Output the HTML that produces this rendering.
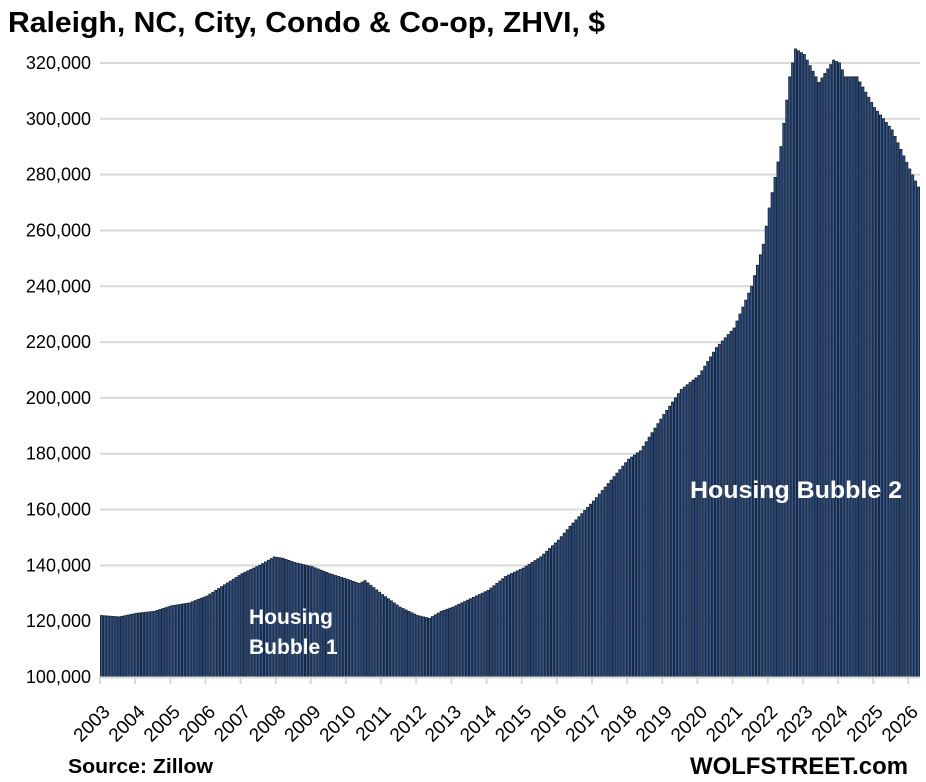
<!DOCTYPE html>
<html><head><meta charset="utf-8"><style>
html,body{margin:0;padding:0;background:#fff}
svg{display:block;font-family:"Liberation Sans",Arial,sans-serif}
</style></head><body>
<svg id="c" width="926" height="782" xmlns="http://www.w3.org/2000/svg">
<text x="8" y="32" font-size="29" font-weight="bold" fill="#000" textLength="597" lengthAdjust="spacingAndGlyphs">Raleigh, NC, City, Condo &amp; Co-op, ZHVI, $</text>
<g id="grid"></g>
<g id="bars"></g>
<g id="labels"></g>
<text x="690" y="498" font-size="24" font-weight="bold" fill="#fff" textLength="212" lengthAdjust="spacingAndGlyphs">Housing Bubble 2</text>
<text x="249" y="624" font-size="21" font-weight="bold" fill="#fff">Housing</text>
<text x="249" y="654" font-size="21" font-weight="bold" fill="#fff">Bubble 1</text>
<text x="68" y="773" font-size="20" font-weight="bold" fill="#000" textLength="145" lengthAdjust="spacingAndGlyphs">Source: Zillow</text>
<text x="908" y="774" font-size="24" font-weight="bold" fill="#000" text-anchor="end" textLength="218" lengthAdjust="spacingAndGlyphs">WOLFSTREET.com</text>
</svg>
<script>
var NS="http://www.w3.org/2000/svg";
function el(t,a,p){var e=document.createElementNS(NS,t);for(var k in a)e.setAttribute(k,a[k]);p.appendChild(e);return e;}
function Y(v){return 677-(v-100000)*55.82/20000;}
var grid=document.getElementById('grid'),bars=document.getElementById('bars'),lab=document.getElementById('labels');
for(var v=100000;v<=320000;v+=20000){
 var y=Y(v);
 if(v>100000) el('line',{x1:100,x2:920,y1:y,y2:y,stroke:'#d9d9d9','stroke-width':2},grid);
 var t=el('text',{x:91,y:y+6,'font-size':18,'text-anchor':'end',fill:'#000'},lab);t.textContent=v.toLocaleString('en-US');
}
var kp=[[0,122000],[6,121500],[12,122800],[18,123500],[24,125500],[30,126500],[36,129000],[42,133000],[48,137000],[54,140000],[59,143000],[62,142500],[66,141000],[72,139500],[78,137000],[84,135000],[88,133500],[90,134500],[96,129500],[102,125000],[108,122000],[112,121000],[116,123500],[120,125000],[132,131000],[138,136000],[144,139000],[150,143000],[156,149000],[160,154000],[168,163000],[180,178000],[184,181000],[192,194000],[198,203000],[204,208000],[210,218000],[216,225000],[222,240000],[226,255000],[228,268000],[232,290000],[235,315000],[237,325000],[240,323000],[244,315000],[245,313000],[250,321000],[252,320000],[254,315000],[258,315000],[264,304000],[270,296000],[276,282000],[279,275500]];
function val(i){for(var j=0;j<kp.length-1;j++){if(i>=kp[j][0]&&i<=kp[j+1][0]){var f=(i-kp[j][0])/(kp[j+1][0]-kp[j][0]);return kp[j][1]+f*(kp[j+1][1]-kp[j][1]);}}return kp[kp.length-1][1];}
var w=820/280;
for(var i=0;i<280;i++){
 var x=100+i*w,y=Y(val(i));
 el('rect',{x:x+0.5,y:y,width:w-1,height:677-y,fill:'#2f62b0',stroke:'#1e2736','stroke-width':1},bars);
}
el('line',{x1:100,x2:920,y1:677.5,y2:677.5,stroke:'#d9d9d9','stroke-width':2},lab);
for(var yr=0;yr<24;yr++){
 var x=100+yr*12*w;
 el('line',{x1:x,x2:x,y1:677,y2:684,stroke:'#d9d9d9','stroke-width':2},lab);
 var ax=x+11, ay=713;
 var t=el('text',{x:ax,y:ay,'font-size':19,'text-anchor':'end',transform:'rotate(-45 '+ax+' '+ay+')',fill:'#000'},lab);
 t.textContent=2003+yr;
}
</script>
</body></html>
